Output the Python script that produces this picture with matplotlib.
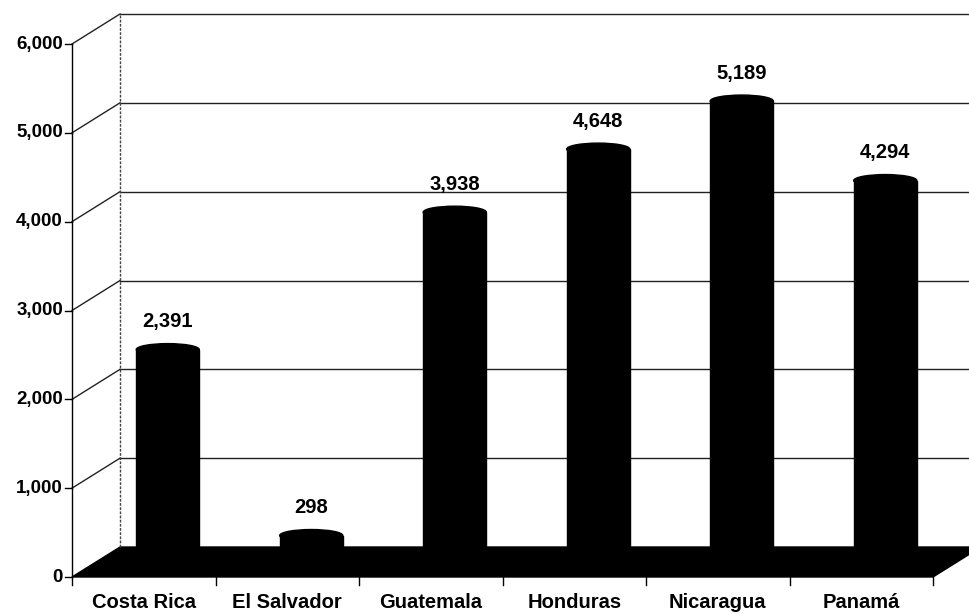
import matplotlib
matplotlib.use("Agg")
import matplotlib.pyplot as plt
from matplotlib.patches import Polygon, Rectangle, Ellipse

categories = ["Costa Rica", "El Salvador", "Guatemala", "Honduras", "Nicaragua", "Panamá"]
values = [2391, 298, 3938, 4648, 5189, 4294]
value_labels = ["2,391", "298", "3,938", "4,648", "5,189", "4,294"]
yticks = [0, 1000, 2000, 3000, 4000, 5000, 6000]
ytick_labels = ["0", "1,000", "2,000", "3,000", "4,000", "5,000", "6,000"]

W, H = 969, 614
fig = plt.figure(figsize=(W / 100, H / 100), dpi=100)
fig.patch.set_facecolor("white")

# front plane in pixels
x0, x1 = 72, 933
y0, y1 = 577, 44
ax = fig.add_axes([x0 / W, 1 - y0 / H, (x1 - x0) / W, (y0 - y1) / H])
n = len(categories)
ymax = 6000
ax.set_xlim(0, n)
ax.set_ylim(0, ymax)
ax.axis("off")

# depth offset in data units
px_x = n / (x1 - x0)
px_y = ymax / (y0 - y1)
dx = 48 * px_x
dy = 30 * px_y
xr = (W - x0) * px_x  # right edge of figure in data units

line_kw = dict(color="#222222", lw=1.0, clip_on=False)

# back wall gridlines and side wall diagonals
for v in yticks[1:]:
    ax.plot([dx, xr + 1], [v + dy, v + dy], **line_kw)
    ax.plot([0, dx], [v, v + dy], **line_kw)
ax.plot([dx, dx], [dy, ymax + dy], color="#444444", lw=1.0, ls=(0, (2, 1)), clip_on=False)

# floor
floor = Polygon([(0, 0), (n, 0), (n + dx, dy), (dx, dy)], closed=True,
                facecolor="black", edgecolor="black", clip_on=False)
ax.add_patch(floor)

# left axis
ax.plot([0, 0], [0, ymax], color="black", lw=1.0, clip_on=False)
for v, lab in zip(yticks, ytick_labels):
    ax.plot([-7 * px_x, 0], [v, v], color="black", lw=1.0, clip_on=False)
    ax.text(-9 * px_x, v, lab, ha="right", va="center", fontsize=13.5,
            fontweight="bold", family="Liberation Sans")

# x ticks
for i in range(n + 1):
    ax.plot([i, i], [0, -8 * px_y], color="black", lw=1.0, clip_on=False)
for i, c in enumerate(categories):
    ax.text(i + 0.5, -26 * px_y, c, ha="center", va="center", fontsize=14.5,
            fontweight="bold", family="Liberation Sans")

# cylinders
bw = 0.44
cap_h = 12 * px_y
for i, v in enumerate(values):
    cx = i + 0.5 + dx / 2
    base = dy / 2
    ax.add_patch(Rectangle((cx - bw / 2, base), bw, v, facecolor="black",
                           edgecolor="black", clip_on=False, zorder=3))
    ax.add_patch(Ellipse((cx, base + v), bw, cap_h, facecolor="black",
                         edgecolor="black", clip_on=False, zorder=3))
    ax.annotate(value_labels[i], (cx, base + v), xytext=(0, 20),
                textcoords="offset points", ha="center", va="center",
                fontsize=14.5, fontweight="bold", family="Liberation Sans")

fig.savefig("out.png", dpi=100, facecolor="white")
